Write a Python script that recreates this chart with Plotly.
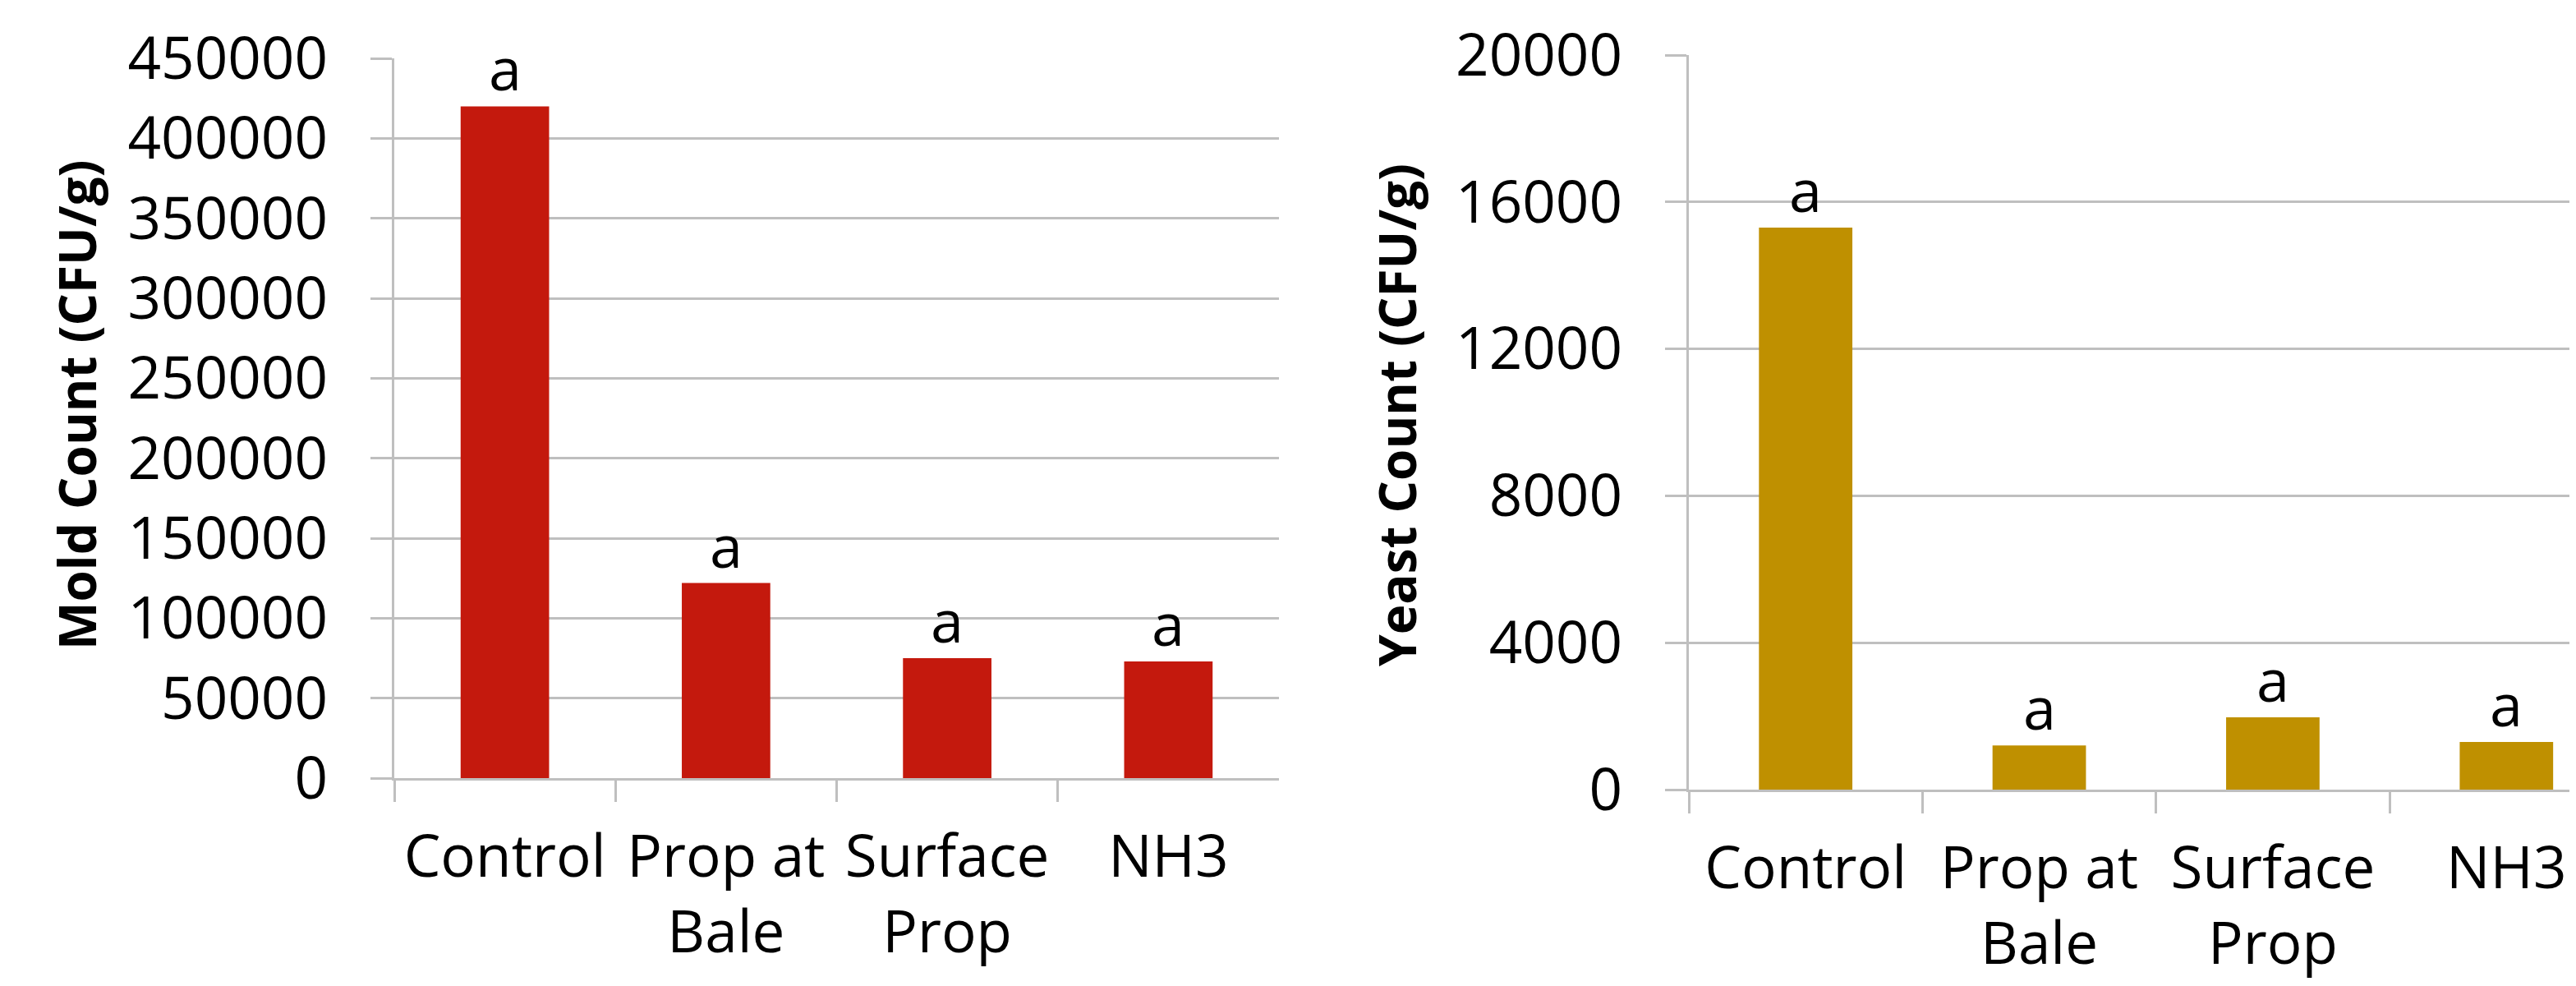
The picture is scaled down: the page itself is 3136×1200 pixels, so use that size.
import plotly.graph_objects as go

# ---- data ----
categories = ["Control", "Prop at Bale", "Surface Prop", "NH3"]
tick_labels = ["Control", "Prop at<br>Bale", "Surface<br>Prop", "NH3"]
mold_values = [420000, 122000, 75000, 73000]
yeast_values = [15300, 1200, 1970, 1300]
mold_letters = ["a", "a", "a", "a"]
yeast_letters = ["a", "a", "a", "a"]
mold_title = "Mold Count (CFU/g)"
yeast_title = "Yeast Count (CFU/g)"

W, H = 3136, 1200
FONT = "Open Sans"
GRID = "#BFBFBF"
RED = "#C4190D"
GOLD = "#BF9000"

def px_x(p):
    return p / W

def px_y(p):
    return 1 - p / H

fig = go.Figure()
fig.add_trace(go.Bar(
    x=categories, y=mold_values, marker=dict(color=RED, line=dict(width=0)),
    xaxis="x", yaxis="y", showlegend=False, hoverinfo="skip"))
fig.add_trace(go.Bar(
    x=categories, y=yeast_values, marker=dict(color=GOLD, line=dict(width=0)),
    xaxis="x2", yaxis="y2", showlegend=False, hoverinfo="skip"))

annotations = []
for xr, yr, vals, letters in (("x", "y", mold_values, mold_letters),
                               ("x2", "y2", yeast_values, yeast_letters)):
    for c, v, t in zip(categories, vals, letters):
        annotations.append(dict(
            x=c, y=v, xref=xr, yref=yr, text=t, showarrow=False,
            xanchor="center", yanchor="bottom", yshift=-4,
            font=dict(family=FONT, size=72, color="black")))

tickfont = dict(family=FONT, size=71, color="black")

xcommon = dict(
    type="category", tickvals=categories, ticktext=tick_labels,
    tickson="boundaries", ticks="outside", ticklen=26, tickwidth=2.5,
    tickcolor=GRID, showline=True, linecolor=GRID, linewidth=2.5,
    showgrid=False, zeroline=False, tickfont=tickfont, automargin=False,
    fixedrange=True, ticklabelstandoff=32,
)
ycommon = dict(
    ticks="outside", ticklen=26, tickwidth=2.5, tickcolor=GRID,
    showline=True, linecolor=GRID, linewidth=2.5, showgrid=True,
    gridcolor=GRID, gridwidth=2.5, zeroline=False, tickfont=tickfont,
    tickformat="d", automargin=False, fixedrange=True, ticklabelstandoff=38,
)

annotations += [
    dict(text="<b>%s</b>" % mold_title, xref="paper", yref="paper",
         x=px_x(85), y=px_y(485), textangle=-90, showarrow=False,
         xanchor="center", yanchor="middle",
         font=dict(family=FONT, size=62, color="black")),
    dict(text="<b>%s</b>" % yeast_title, xref="paper", yref="paper",
         x=px_x(1692), y=px_y(497), textangle=-90, showarrow=False,
         xanchor="center", yanchor="middle",
         font=dict(family=FONT, size=62, color="black")),
]

fig.update_layout(
    width=W, height=H, template="none",
    margin=dict(l=0, r=0, t=0, b=0),
    paper_bgcolor="white", plot_bgcolor="white",
    bargap=0.6,
    xaxis=dict(domain=[px_x(472), px_x(1549)], range=[-0.5, 3.5], anchor="y", **xcommon),
    yaxis=dict(domain=[px_y(939), px_y(63)], range=[0, 450000], dtick=50000, anchor="x", **ycommon),
    xaxis2=dict(domain=[px_x(2048), 1.0], range=[-0.5, 3.326], anchor="y2", **xcommon),
    yaxis2=dict(domain=[px_y(953), px_y(59)], range=[0, 20000], dtick=4000, anchor="x2", **ycommon),
    annotations=annotations,
)

fig.write_html("out.html")
